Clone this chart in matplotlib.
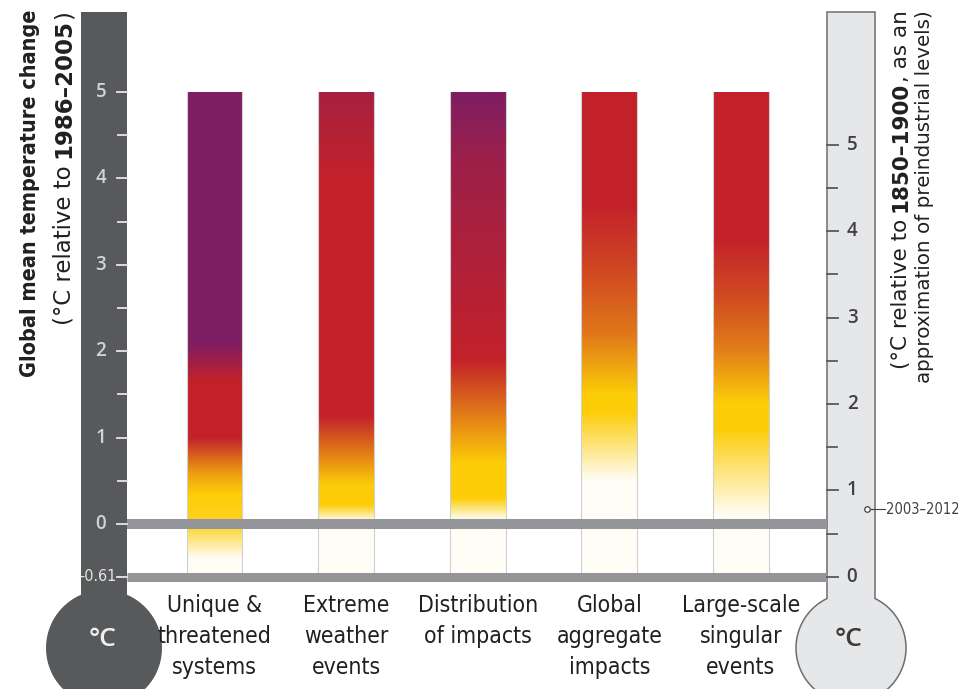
import numpy as np
import matplotlib
matplotlib.use("Agg")
import matplotlib.pyplot as plt
from matplotlib.colors import LinearSegmentedColormap, Normalize
from matplotlib.patches import Polygon

# reasons for concern
categories = ["Unique &\nthreatened\nsystems", "Extreme\nweather\nevents",
              "Distribution\nof impacts", "Global\naggregate\nimpacts",
              "Large-scale\nsingular\nevents"]

# risk level along temperature (°C rel. 1986-2005)
# 0 undetectable, 1 moderate, 2 high, 3 very high
unique_temp = [-0.61, -0.40, 0.00, 0.35, 0.60, 1.00, 1.65, 2.10, 5.00]
unique_risk = [0.0, 0.0, 0.9, 1.0, 1.3, 2.0, 2.0, 3.0, 3.0]
extreme_temp = [-0.61, 0.03, 0.22, 0.45, 1.25, 4.00, 5.00]
extreme_risk = [0.0, 0.0, 1.0, 1.0, 2.0, 2.0, 2.4]
distrib_temp = [-0.61, 0.05, 0.30, 0.70, 1.90, 4.20, 5.00]
distrib_risk = [0.0, 0.0, 1.0, 1.0, 2.0, 2.55, 3.0]
global_temp = [-0.61, 0.50, 1.30, 1.50, 2.20, 3.00, 3.70, 5.00]
global_risk = [0.0, 0.0, 1.0, 1.0, 1.5, 1.8, 2.0, 2.0]
singular_temp = [-0.61, 0.10, 1.10, 1.40, 2.00, 2.60, 3.30, 5.00]
singular_risk = [0.0, 0.0, 1.0, 1.0, 1.45, 1.75, 2.0, 2.0]

left_ticks = [0, 1, 2, 3, 4, 5]
right_ticks = [0, 1, 2, 3, 4, 5]
baseline_offset = 0.61   # 1986-2005 above 1850-1900
recent = 0.78            # 2003-2012 above 1850-1900
bar_bottom, bar_top = -0.61, 5.0

COND = dict(family="DejaVu Sans", fontstretch="condensed")
DARK = "#58595b"
LINE = "#939598"
TXT = "#231f20"

# pixel -> data helpers for the decorations (image is 958x689)
X0, XS = 214.5, 131.6
Y0, YS = 524.0, 86.4
def px2x(px): return (px - X0) / XS
def py2y(py): return (Y0 - py) / YS

fig = plt.figure(figsize=(9.58, 6.89), dpi=100)
ax = fig.add_axes([0, 0, 1, 1])
ax.set_xlim(px2x(0), px2x(958))
ax.set_ylim(py2y(689), py2y(0))
ax.axis("off")

cmap = LinearSegmentedColormap.from_list(
    "rfc", [(0, "#fffdf6"), (1/3, "#fdcd08"), (2/3, "#c3222a"), (1, "#7e1e63")])
norm = Normalize(0, 3)

stops = [(unique_temp, unique_risk), (extreme_temp, extreme_risk),
         (distrib_temp, distrib_risk), (global_temp, global_risk),
         (singular_temp, singular_risk)]
w = 0.425
tt = np.linspace(bar_bottom, bar_top, 600)
for i, (t, r) in enumerate(stops):
    col = np.interp(tt, t, r)[:, None]
    ax.imshow(col, cmap=cmap, norm=norm, aspect="auto", origin="lower",
              extent=(i - w/2, i + w/2, bar_bottom, bar_top), zorder=2,
              interpolation="bilinear")
    ax.plot([i - w/2, i - w/2], [bar_bottom, bar_top], color="#cfcfcf", lw=0.8, zorder=3)
    ax.plot([i + w/2, i + w/2], [bar_bottom, bar_top], color="#cfcfcf", lw=0.8, zorder=3)
    ax.text(i, py2y(594), categories[i], ha="center", va="top", fontsize=16.5,
            color=TXT, linespacing=1.45, **COND)


def thermo(cx, half, top, cy, r, fc, ec, lw):
    dy = np.sqrt(r**2 - half**2)
    th = np.degrees(np.arctan2(dy, half))
    a = np.radians(np.linspace(-th, 180 + th, 120))
    pts = [(cx - half, cy - dy), (cx - half, top), (cx + half, top)]
    pts += list(zip(cx + r*np.cos(a), cy + r*np.sin(a)))
    pts = [(px2x(x), py2y(y)) for x, y in pts]
    ax.add_patch(Polygon(pts, closed=True, fc=fc, ec=ec, lw=lw, zorder=1))

thermo(104, 23, 12, 648, 58, DARK, DARK, 0)
thermo(851, 24, 12, 648, 55, "#e6e7e8", "#6d6e71", 1.1)

# baseline lines
ax.plot([px2x(127), px2x(827)], [0, 0], color=LINE, lw=7.2, solid_capstyle="butt", zorder=4)
ax.plot([px2x(127), px2x(827)], [-baseline_offset] * 2, color=LINE, lw=6.5,
        solid_capstyle="butt", zorder=4)

# left scale
for v in left_ticks:
    ax.plot([px2x(117), px2x(127)], [v, v], color="#e6e6e6", lw=1.3, zorder=5)
    ax.text(px2x(101), v, str(v), ha="center", va="center", fontsize=13.5,
            family="Open Sans", fontweight="semibold", color="#d1d3d4", zorder=5)
for v in np.arange(0.5, 5, 1.0):
    ax.plot([px2x(118), px2x(127)], [v, v], color="#e6e6e6", lw=1.3, zorder=5)
ax.plot([px2x(117), px2x(127)], [-baseline_offset] * 2, color="#e6e6e6", lw=1.3, zorder=5)
ax.text(px2x(117), -baseline_offset, "-0.61", ha="right", va="center", fontsize=11.5,
        color="#e6e6e6", zorder=5, **COND)
ax.text(px2x(103), py2y(640), "°C", ha="center", va="center", fontsize=19,
        family="Open Sans", fontweight="semibold", color="#f0f0f0")

# right scale
for v in right_ticks:
    y = v - baseline_offset
    ax.plot([px2x(827), px2x(838)], [y, y], color="#58595b", lw=1.3, zorder=5)
    ax.text(px2x(852), y, str(v), ha="center", va="center", fontsize=13.5,
            family="Open Sans", fontweight="semibold", color="#414042", zorder=5)
for v in np.arange(0.5, 5, 1.0):
    y = v - baseline_offset
    ax.plot([px2x(827), px2x(837)], [y, y], color="#58595b", lw=1.3, zorder=5)
ax.text(px2x(849), py2y(640), "°C", ha="center", va="center", fontsize=19,
        family="Open Sans", fontweight="semibold", color="#3a3a3a")

# 2003-2012 marker
yr = recent - baseline_offset
ax.plot([px2x(867), px2x(885)], [yr, yr], color="#414042", lw=0.8, zorder=5)
ax.plot(px2x(867), yr, "o", ms=4, mfc="white", mec="#414042", mew=0.9, zorder=6)
ax.text(px2x(886), yr, "2003–2012", ha="left", va="center", fontsize=10.5,
        color="#414042", **COND)

# rotated axis titles with bold fragments
fig.canvas.draw()
rend = fig.canvas.get_renderer()

def vtext(parts, xpx, toppx, size, stretch="normal", color=TXT):
    yf = 1 - toppx / 689
    for s, wt in reversed(parts):
        t = fig.text(xpx / 958, yf, s, rotation=90, rotation_mode="anchor",
                     ha="right", va="center", fontsize=size, fontweight=wt,
                     family="DejaVu Sans", fontstretch=stretch, color=color)
        yf -= t.get_window_extent(rend).height / 689

vtext([("Global mean temperature change", "bold")], 30, 10, 15.5, "condensed")
vtext([("(°C relative to ", "normal"), ("1986–2005", "bold"), (")", "normal")], 64, 10, 16.5)
vtext([("(°C relative to ", "normal"), ("1850–1900", "bold"), (", as an", "normal")], 901, 10, 15.5)
vtext([("approximation of preindustrial levels)", "normal")], 925, 10, 14.3)

fig.savefig("out.png", dpi=100)
